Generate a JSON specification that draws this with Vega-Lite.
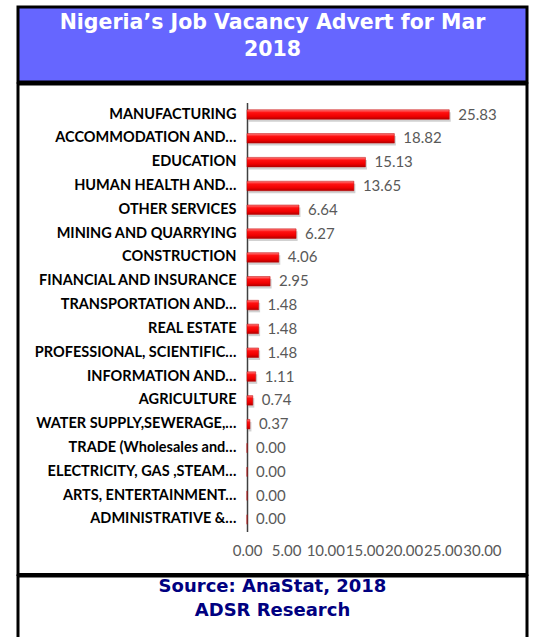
{
  "$schema": "https://vega.github.io/schema/vega-lite/v6.json",
  "background": "white",
  "padding": {"left": 16, "top": 5, "right": 0, "bottom": 0},
  "spacing": -3,
  "vconcat": [
    {
      "width": 509,
      "height": 75,
      "view": {"fill": "#6666FF", "stroke": "black", "strokeWidth": 3},
      "data": {"values": [{"t": "Nigeria’s Job Vacancy Advert for Mar\n2018"}]},
      "mark": {"type": "text", "lineBreak": "\n", "font": "DejaVu Sans", "fontWeight": "bold", "fontSize": 20.5, "color": "white", "lineHeight": 27, "align": "center", "baseline": "middle", "dy": -22},
      "encoding": {"text": {"field": "t"}}
    },
    {
      "width": 509,
      "height": 490.5,
      "view": {"fill": "white", "stroke": "black", "strokeWidth": 3},
      "data": {"values": [
        {"sector": "MANUFACTURING", "value": 25.83},
        {"sector": "ACCOMMODATION AND…", "value": 18.82},
        {"sector": "EDUCATION", "value": 15.13},
        {"sector": "HUMAN HEALTH AND…", "value": 13.65},
        {"sector": "OTHER SERVICES", "value": 6.64},
        {"sector": "MINING AND QUARRYING", "value": 6.27},
        {"sector": "CONSTRUCTION", "value": 4.06},
        {"sector": "FINANCIAL AND INSURANCE", "value": 2.95},
        {"sector": "TRANSPORTATION AND…", "value": 1.48},
        {"sector": "REAL ESTATE", "value": 1.48},
        {"sector": "PROFESSIONAL, SCIENTIFIC…", "value": 1.48},
        {"sector": "INFORMATION AND…", "value": 1.11},
        {"sector": "AGRICULTURE", "value": 0.74},
        {"sector": "WATER SUPPLY,SEWERAGE,…", "value": 0.37},
        {"sector": "TRADE (Wholesales and…", "value": 0.0},
        {"sector": "ELECTRICITY, GAS ,STEAM…", "value": 0.0},
        {"sector": "ARTS, ENTERTAINMENT…", "value": 0.0},
        {"sector": "ADMINISTRATIVE &…", "value": 0.0}
      ]},
      "encoding": {
        "y": {
          "field": "sector", "type": "nominal", "sort": null,
          "scale": {"range": [18.6, 447.4], "paddingInner": 0.6, "paddingOuter": 0.3},
          "axis": {"title": null, "orient": "left", "offset": -229, "ticks": false, "domainColor": "#404040", "domainWidth": 1.5, "labelFont": "Lato", "labelFontWeight": "bold", "labelFontSize": 14.5, "labelColor": "black", "labelPadding": 11, "labelLimit": 300}
        },
        "x": {
          "field": "value", "type": "quantitative",
          "scale": {"domain": [-29.25, 35.76], "nice": false, "zero": false},
          "axis": {"title": null, "values": [0, 5, 10, 15, 20, 25, 30], "format": ".2f", "grid": false, "domain": false, "ticks": false, "labelFont": "Lato", "labelFontSize": 15, "labelColor": "#595959", "labelOverlap": false, "labelPadding": 0, "offset": -31, "labelFlush": false}
        }
      },
      "layer": [
        {
          "mark": {"type": "bar", "color": "#9a9a9a", "opacity": 0.45, "xOffset": 1.5, "yOffset": 2.5, "stroke": null},
          "encoding": {}
        },
        {
          "mark": {"type": "bar", "stroke": "#c00000", "strokeWidth": 0.5, "color": {"gradient": "linear", "x1": 0, "y1": 0, "x2": 0, "y2": 1, "stops": [{"offset": 0, "color": "#ff8080"}, {"offset": 0.3, "color": "#ff1010"}, {"offset": 0.7, "color": "#ee0000"}, {"offset": 1, "color": "#b00000"}]}},
          "encoding": {}
        },
        {
          "mark": {"type": "text", "align": "left", "baseline": "middle", "dx": 9, "font": "Lato", "fontSize": 15, "color": "#595959"},
          "encoding": {"text": {"field": "value", "type": "quantitative", "format": ".2f"}}
        }
      ]
    },
    {
      "width": 509,
      "height": 63.5,
      "view": {"fill": "white", "stroke": "black", "strokeWidth": 3},
      "data": {"values": [{"t": "Source: AnaStat, 2018\nADSR Research"}]},
      "mark": {"type": "text", "lineBreak": "\n", "font": "DejaVu Sans", "fontWeight": "bold", "fontSize": 18, "color": "#000080", "lineHeight": 24, "align": "center", "baseline": "middle", "dy": -21},
      "encoding": {"text": {"field": "t"}}
    }
  ]
}
